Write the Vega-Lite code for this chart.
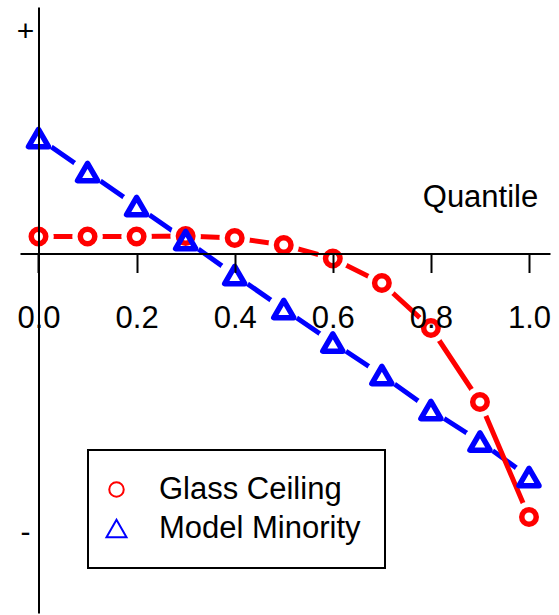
{
  "$schema": "https://vega.github.io/schema/vega-lite/v6.json",
  "width": 530,
  "height": 606,
  "autosize": {"type": "none"},
  "padding": {"left": 20, "top": 7, "right": 9, "bottom": 2},
  "background": "white",
  "config": {
    "view": {"stroke": null},
    "font": "Liberation Sans",
    "legend": {
      "padding": 24,
      "strokeColor": "black",
      "strokeWidth": 2,
      "fillColor": "white",
      "labelFont": "Liberation Sans",
      "labelFontSize": 31,
      "labelColor": "black",
      "labelLimit": 500,
      "symbolStrokeWidth": 2,
      "symbolOffset": -11,
      "labelOffset": 27,
      "rowPadding": 7
    }
  },
  "data": {
    "values": [
      {"q": 0.0, "value": 0.17, "series": "Glass Ceiling"},
      {"q": 0.1, "value": 0.17, "series": "Glass Ceiling"},
      {"q": 0.2, "value": 0.17, "series": "Glass Ceiling"},
      {"q": 0.3, "value": 0.175, "series": "Glass Ceiling"},
      {"q": 0.4, "value": 0.155, "series": "Glass Ceiling"},
      {"q": 0.5, "value": 0.085, "series": "Glass Ceiling"},
      {"q": 0.6, "value": -0.05, "series": "Glass Ceiling"},
      {"q": 0.7, "value": -0.295, "series": "Glass Ceiling"},
      {"q": 0.8, "value": -0.745, "series": "Glass Ceiling"},
      {"q": 0.9, "value": -1.485, "series": "Glass Ceiling"},
      {"q": 1.0, "value": -2.635, "series": "Glass Ceiling"},
      {"q": 0.0, "value": 1.155, "series": "Model Minority"},
      {"q": 0.1, "value": 0.815, "series": "Model Minority"},
      {"q": 0.2, "value": 0.475, "series": "Model Minority"},
      {"q": 0.3, "value": 0.135, "series": "Model Minority"},
      {"q": 0.4, "value": -0.215, "series": "Model Minority"},
      {"q": 0.5, "value": -0.555, "series": "Model Minority"},
      {"q": 0.6, "value": -0.89, "series": "Model Minority"},
      {"q": 0.7, "value": -1.215, "series": "Model Minority"},
      {"q": 0.8, "value": -1.565, "series": "Model Minority"},
      {"q": 0.9, "value": -1.88, "series": "Model Minority"},
      {"q": 1.0, "value": -2.235, "series": "Model Minority"}
    ]
  },
  "encoding": {
    "x": {
      "field": "q",
      "type": "quantitative",
      "scale": {"domain": [-0.0377, 1.0428], "nice": false, "zero": false},
      "axis": {
        "orient": "bottom",
        "offset": -359.5,
        "values": [0, 0.2, 0.4, 0.6, 0.8, 1],
        "format": ".1f",
        "grid": false,
        "domainColor": "black",
        "domainWidth": 2,
        "tickColor": "black",
        "tickWidth": 2,
        "tickSize": 19,
        "labelFont": "Liberation Sans",
        "labelFontSize": 31,
        "labelColor": "black",
        "labelBaseline": "alphabetic",
        "labelPadding": 54.5,
        "labelFlush": false,
        "labelOverlap": false,
        "labelBound": false,
        "title": "Quantile",
        "titleFont": "Liberation Sans",
        "titleFontSize": 31,
        "titleFontWeight": "normal",
        "titleColor": "black",
        "titleX": 460,
        "titleY": -47,
        "titleAlign": "center",
        "titleBaseline": "alphabetic",
        "zindex": 1
      }
    },
    "y": {
      "field": "value",
      "type": "quantitative",
      "scale": {"domain": [-3.595, 2.465], "nice": false, "zero": false},
      "axis": {
        "orient": "left",
        "offset": -18.5,
        "values": [2.135, -2.875],
        "labelExpr": "datum.value > 0 ? '+' : '-'",
        "grid": false,
        "ticks": false,
        "tickSize": 0,
        "domainColor": "black",
        "domainWidth": 2,
        "labelFont": "Liberation Sans",
        "labelFontSize": 30,
        "labelColor": "black",
        "labelAlign": "center",
        "labelBaseline": "alphabetic",
        "labelPadding": 13.5,
        "labelFlush": false,
        "labelOverlap": false,
        "labelBound": false,
        "title": null,
        "zindex": 1
      }
    }
  },
  "layer": [
    {
      "transform": [{"filter": "datum.series === 'Model Minority'"}],
      "mark": {"type": "line", "color": "blue", "strokeWidth": 5, "strokeCap": "butt"}
    },
    {
      "transform": [{"filter": "datum.series === 'Model Minority'"}],
      "mark": {"type": "circle", "color": "white", "opacity": 1, "size": 1000}
    },
    {
      "transform": [{"filter": "datum.series === 'Glass Ceiling'"}],
      "mark": {"type": "line", "color": "red", "strokeWidth": 5, "strokeCap": "butt"}
    },
    {
      "transform": [{"filter": "datum.series === 'Glass Ceiling'"}],
      "mark": {"type": "circle", "color": "white", "opacity": 1, "size": 930}
    },
    {
      "mark": {"type": "point", "filled": false, "opacity": 1, "strokeJoin": "round"},
      "encoding": {
        "color": {
          "field": "series",
          "type": "nominal",
          "scale": {"domain": ["Glass Ceiling", "Model Minority"], "range": ["red", "blue"]},
          "legend": {"title": null, "orient": "none", "legendX": 68, "legendY": 443}
        },
        "shape": {
          "field": "series",
          "type": "nominal",
          "scale": {"domain": ["Glass Ceiling", "Model Minority"], "range": ["circle", "triangle-up"]},
          "legend": {"title": null, "orient": "none", "legendX": 68, "legendY": 443}
        },
        "size": {
          "field": "series",
          "type": "nominal",
          "scale": {"domain": ["Glass Ceiling", "Model Minority"], "range": [210, 400]},
          "legend": {"title": null, "orient": "none", "legendX": 68, "legendY": 443}
        },
        "strokeWidth": {"value": 5.5}
      }
    }
  ]
}
